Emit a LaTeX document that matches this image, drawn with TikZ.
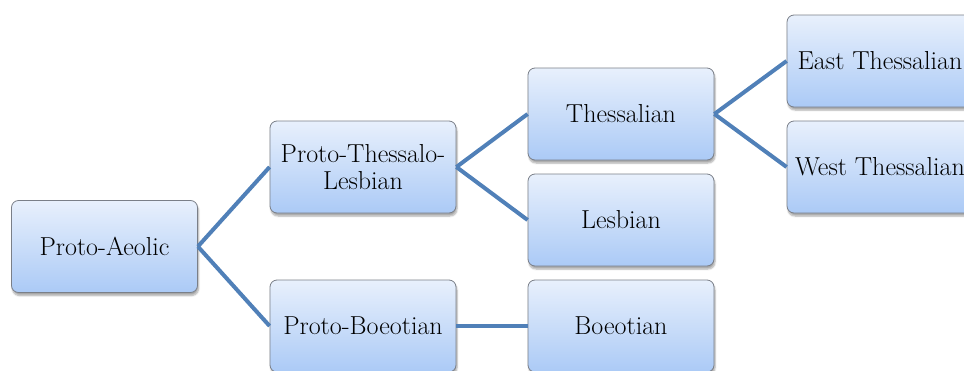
\documentclass[tikz,border=0pt]{standalone}
\usetikzlibrary{shadows.blur}
\definecolor{boxtop}{HTML}{E8F0FC}
\definecolor{boxbot}{HTML}{ABCAF6}
\definecolor{boxline}{HTML}{7A7F88}
\definecolor{linkcol}{HTML}{5080B8}
\tikzset{
  langbox/.style={draw=boxline, line width=0.8pt, rounded corners=7pt,
    top color=boxtop, bottom color=boxbot,
    minimum width=186pt, minimum height=92pt, inner sep=0pt,
    align=center, font=\fontsize{26}{26.5}\selectfont,
    blur shadow={shadow xshift=1pt, shadow yshift=-3pt, shadow opacity=35, shadow blur steps=6}},
  link/.style={draw=linkcol, line width=4pt}
}
\begin{document}
\begin{tikzpicture}[x=1pt,y=-1pt]
\useasboundingbox (0,0) rectangle (964,370);
\clip (0,0) rectangle (964,370);
\node[langbox] (pa) at (104.5,246.5) {Proto-Aeolic};
\node[langbox] (ptl) at (363,167) {Proto-Thessalo-\\Lesbian};
\node[langbox] (pb) at (363,326) {Proto-Boeotian};
\node[langbox] (th) at (621,114) {Thessalian};
\node[langbox] (le) at (621,220) {Lesbian};
\node[langbox] (bo) at (621,326) {Boeotian};
\node[langbox] (et) at (880,61) {East Thessalian};
\node[langbox] (wt) at (880,167) {West Thessalian};
\draw[link] (pa.east) -- (ptl.west);
\draw[link] (pa.east) -- (pb.west);
\draw[link] (ptl.east) -- (th.west);
\draw[link] (ptl.east) -- (le.west);
\draw[link] (pb.east) -- (bo.west);
\draw[link] (th.east) -- (et.west);
\draw[link] (th.east) -- (wt.west);
\end{tikzpicture}
\end{document}
